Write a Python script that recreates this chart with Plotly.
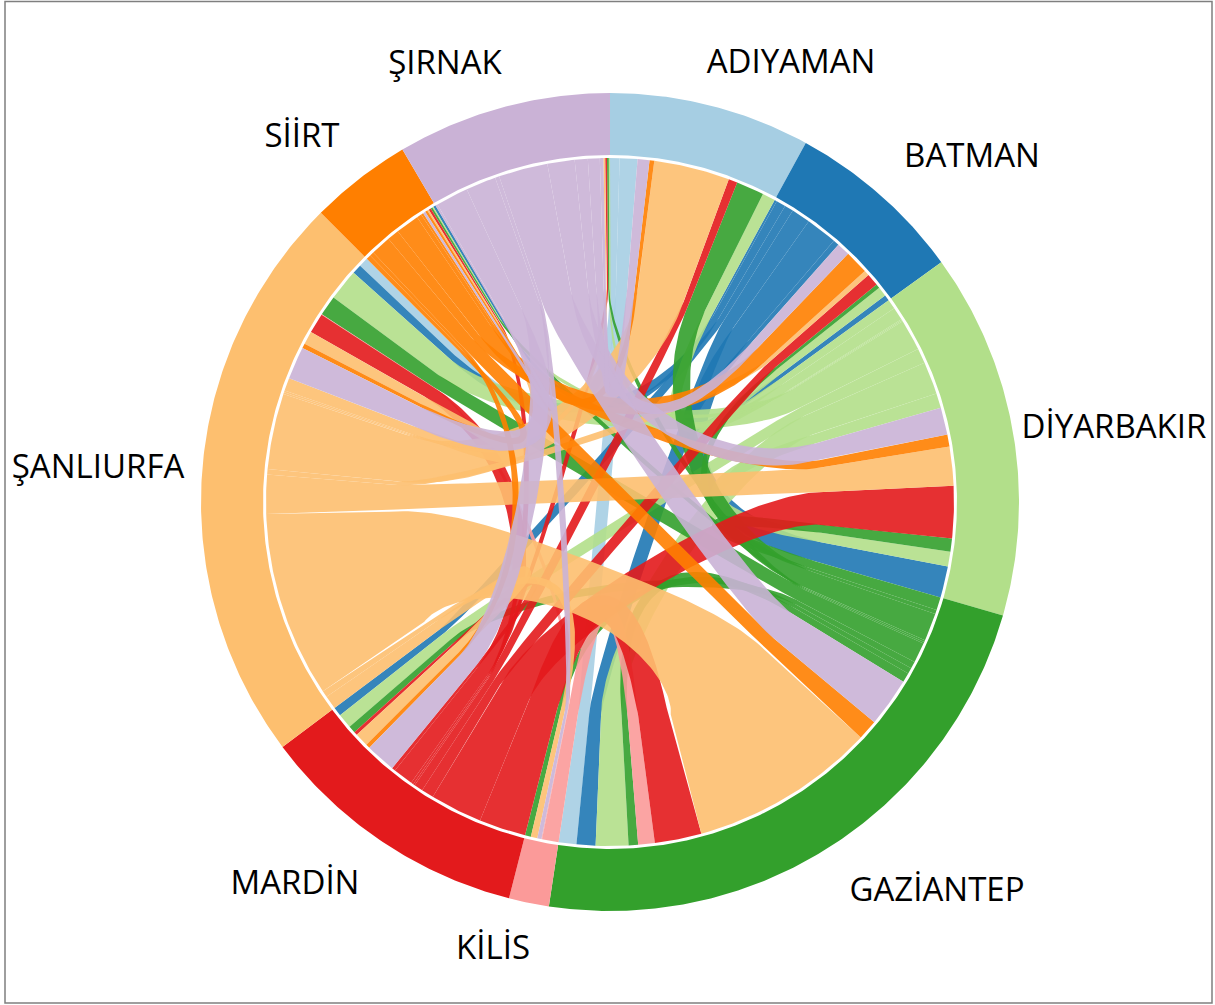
import numpy as np
import plotly.graph_objects as go

# ---- data -------------------------------------------------------------
regions = ["ADIYAMAN", "BATMAN", "DİYARBAKIR", "GAZİANTEP", "KİLİS",
           "MARDİN", "ŞANLIURFA", "SİİRT", "ŞIRNAK"]
# flows from each region to: ADI BAT DİY GAZ KİL MAR URF Sİİ ŞIR
from_adiyaman   = [0.0, 0.0, 0.0, 3.0, 0.0, 0.0, 1.6, 0.0, 0.0]
from_batman     = [0.0, 1.0, 5.3, 3.2, 0.0, 1.5, 1.6, 0.4, 0.0]
from_diyarbakir = [2.2, 1.6, 2.5, 5.5, 0.0, 2.5, 5.3, 0.2, 0.2]
from_gaziantep  = [4.7, 0.7, 2.2, 1.6, 1.0, 1.2, 3.4, 0.3, 0.3]
from_kilis      = [0.0, 0.0, 0.0, 2.8, 0.0, 0.0, 0.1, 0.0, 0.0]
from_mardin     = [1.5, 2.1, 8.8, 7.9, 0.0, 0.6, 3.4, 0.4, 0.3]
from_sanliurfa  = [12.8, 0.9, 6.6, 31.4, 1.1, 2.3, 2.2, 0.3, 0.3]
from_siirt      = [0.8, 4.0, 2.0, 3.4, 0.0, 0.7, 0.8, 0.4, 0.0]
from_sirnak     = [2.0, 2.2, 4.6, 8.3, 0.7, 5.1, 5.5, 0.4, 0.3]

flows = [from_adiyaman, from_batman, from_diyarbakir, from_gaziantep, from_kilis,
         from_mardin, from_sanliurfa, from_siirt, from_sirnak]

# ---- style ------------------------------------------------------------
colors = ["#a6cee3", "#1f78b4", "#b2df8a", "#33a02c", "#fb9a99",
          "#e31a1c", "#fdbf6f", "#ff7f00", "#cab2d6"]
label_xy = {"ADIYAMAN": (791, 65), "BATMAN": (972, 159), "DİYARBAKIR": (1114, 430),
            "GAZİANTEP": (937, 893), "KİLİS": (493, 951), "MARDİN": (295, 886),
            "ŞANLIURFA": (98, 470), "SİİRT": (302, 139), "ŞIRNAK": (445, 66)}
W, H = 1215, 1005
CX, CY = 610, 502
R_OUT, R_IN, R_LINK = 409, 347, 344
R_STRAIGHT = 0.62  # share of the radius the ribbon edges run radially
RHO_NEAR, RHO_FAR = 0.22, 0.59
END_WIDTH = [0, 4, 12, 50, 77, 190]   # ribbon width at the arc, px
MID_WIDTH = [3, 6, 10, 27, 30, 55]    # ribbon width at mid-course, px
LINK_ALPHA = 0.9


def rgba(hex_color, a):
    h = hex_color.lstrip("#")
    return f"rgba({int(h[:2],16)},{int(h[2:4],16)},{int(h[4:],16)},{a})"


def polar(deg, r):
    t = np.radians(deg)
    return r * np.sin(t), r * np.cos(t)


def arc(a0, a1, r):
    k = max(2, int(abs(a1 - a0) * 2) + 2)
    return polar(np.linspace(a0, a1, k), r)


def ribbon(a0, a1, b0, b1):
    am, bm = (a0 + a1) / 2, (b0 + b1) / 2
    sep = abs(am - bm) % 360
    sep = min(sep, 360 - sep)
    rho = RHO_NEAR + (RHO_FAR - RHO_NEAR) * max(0.0, sep - 60) / 120
    ua = np.array(polar(am, 1.0))
    ub = np.array(polar(bm, 1.0))
    p0 = ua * R_LINK * R_STRAIGHT
    p3 = ub * R_LINK * R_STRAIGHT
    c1, c2 = ua * R_LINK * rho, ub * R_LINK * rho
    t = np.linspace(0, 1, 90)
    tt = t[:, None]
    c = ((1 - tt) ** 3) * p0 + 3 * ((1 - tt) ** 2) * tt * c1 + 3 * (1 - tt) * tt ** 2 * c2 + tt ** 3 * p3
    d = 3 * ((1 - tt) ** 2) * (c1 - p0) + 6 * (1 - tt) * tt * (c2 - c1) + 3 * tt ** 2 * (p3 - c2)
    d = d / np.maximum(np.linalg.norm(d, axis=1, keepdims=True), 1e-9)
    left = np.c_[-d[:, 1], d[:, 0]]
    ha = R_LINK * R_STRAIGHT * np.sin(np.radians(a1 - a0) / 2)
    hb = R_LINK * R_STRAIGHT * np.sin(np.radians(b1 - b0) / 2)
    wa = R_LINK * np.radians(a1 - a0)
    wb = R_LINK * np.radians(b1 - b0)
    hm = np.interp((wa + wb) / 2, END_WIDTH, MID_WIDTH) / 2
    s = np.sin(np.pi * t)
    h = ((1 - t) * ha + t * hb) * (1 - s) + hm * s
    e1 = c + left * h[:, None]
    e2 = c - left * h[:, None]
    a_x, a_y = arc(a0, a1, R_LINK)
    b_x, b_y = arc(b0, b1, R_LINK)
    xs = np.r_[a_x, e1[:, 0], b_x, e2[::-1, 0]]
    ys = np.r_[a_y, e1[:, 1], b_y, e2[::-1, 1]]
    return xs, ys


n = len(regions)
M = np.array(flows, dtype=float)
scale = 360.0 / (M.sum() * 2)
M = M * scale

fig = go.Figure()

# angular layout: outgoing flows first, then incoming
start = 0.0
out_span, in_span, group_span = {}, {}, []
for i in range(n):
    g0 = start
    for k in range(1, n + 1):
        j = (i - k) % n
        if M[i, j] > 0:
            out_span[(i, j)] = (start, start + M[i, j])
            start += M[i, j]
    for j in range(n - 1, -1, -1):
        if M[j, i] > 0:
            in_span[(j, i)] = (start, start + M[j, i])
            start += M[j, i]
    group_span.append((g0, start))

# ribbons
for i in range(n):
    for j in range(n):
        if M[i, j] <= 0:
            continue
        xs, ys = ribbon(*out_span[(i, j)], *in_span[(i, j)])
        fig.add_trace(go.Scatter(x=xs, y=ys, mode="lines", fill="toself",
                                 line=dict(width=0, color=colors[i]),
                                 fillcolor=rgba(colors[i], LINK_ALPHA),
                                 hoverinfo="skip", showlegend=False))

# ring
for i, (g0, g1) in enumerate(group_span):
    ox, oy = arc(g0, g1, R_OUT)
    ix, iy = arc(g1, g0, R_IN)
    fig.add_trace(go.Scatter(x=np.r_[ox, ix], y=np.r_[oy, iy], mode="lines", fill="toself",
                             line=dict(width=0, color=colors[i]), fillcolor=colors[i],
                             hoverinfo="skip", showlegend=False))

# labels
fig.add_trace(go.Scatter(x=[label_xy[r][0] - CX for r in regions],
                         y=[CY - label_xy[r][1] for r in regions],
                         mode="text", text=regions, textposition="middle center",
                         textfont=dict(family="Open Sans", size=33, color="#000000"),
                         hoverinfo="skip", showlegend=False))

fig.update_layout(
    width=W, height=H, autosize=False,
    margin=dict(l=0, r=0, t=0, b=0),
    paper_bgcolor="white", plot_bgcolor="white",
    xaxis=dict(range=[-CX, W - CX], visible=False, fixedrange=True),
    yaxis=dict(range=[CY - H, CY], visible=False, fixedrange=True),
    shapes=[dict(type="rect", xref="paper", yref="paper",
                 x0=5 / W, x1=1212 / W, y0=1 - 1003 / H, y1=1 - 1.5 / H,
                 line=dict(color="#7f7f7f", width=1.5), fillcolor="rgba(0,0,0,0)")],
)
fig.write_html("out.html",
               post_script="document.body.style.margin='0';document.documentElement.style.overflow='hidden';",
               config={"displayModeBar": False})
